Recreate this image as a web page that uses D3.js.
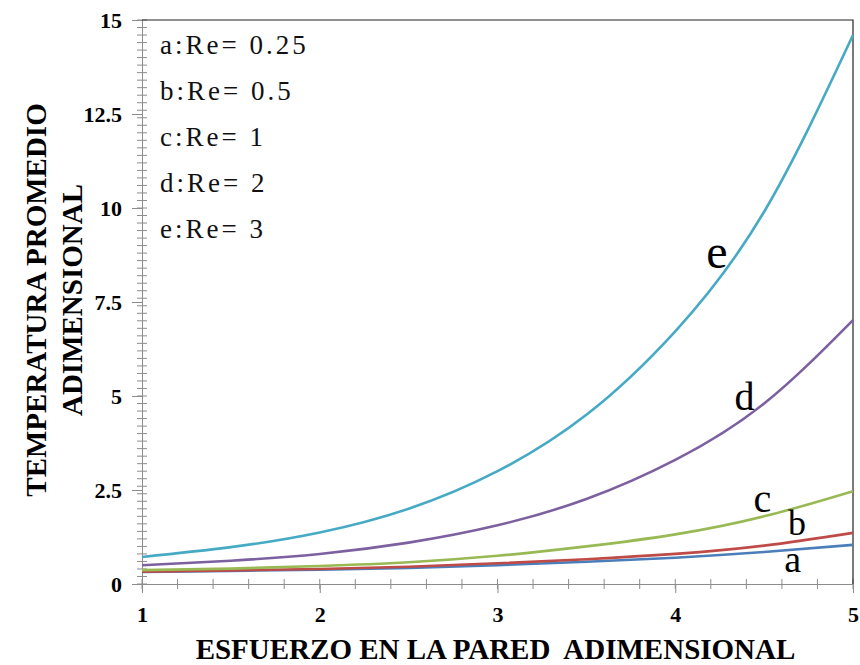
<!doctype html>
<html lang="es">
<head>
  <meta charset="utf-8">
  <title>Temperatura promedio adimensional</title>
  <script src="https://d3js.org/d3.v7.min.js"></script>
  <style>
    body { margin: 0; background: #fff; }
    text { font-family: "Liberation Serif", "Times New Roman", serif; }
    .tick text { font-family: "Liberation Serif", serif; font-weight: bold; font-size: 22px; fill: #000; }
  </style>
</head>
<body>
  <div id="chart"></div>
  <script>
  // esfuerzo en la pared (x) y temperatura promedio para cada Re
  var xs = [1, 1.5, 2, 2.5, 3, 3.5, 4, 4.5, 5];
  var curveA = [0.32, 0.35, 0.38, 0.43, 0.50, 0.59, 0.70, 0.85, 1.04];
  var curveB = [0.33, 0.36, 0.40, 0.46, 0.55, 0.66, 0.80, 1.02, 1.36];
  var curveC = [0.37, 0.41, 0.48, 0.58, 0.75, 1.00, 1.32, 1.80, 2.47];
  var curveD = [0.50, 0.62, 0.80, 1.10, 1.56, 2.26, 3.30, 4.80, 7.02];
  var curveE = [0.72, 0.98, 1.37, 2.00, 3.00, 4.50, 6.72, 9.90, 14.6];
  var legendLabels = ["a:Re= 0.25", "b:Re= 0.5", "c:Re= 1", "d:Re= 2", "e:Re= 3"];
  var colors = ["#4a7ebb", "#be4b48", "#98b954", "#7d60a0", "#46aac5"];
  var xTicks = [1, 2, 3, 4, 5];
  var yTicks = [0, 2.5, 5, 7.5, 10, 12.5, 15];

  var width = 860, height = 665;
  var svg = d3.select("#chart").append("svg")
    .attr("width", width).attr("height", height);

  var x = d3.scaleLinear().domain([1, 5]).range([142, 853]);
  var y = d3.scaleLinear().domain([0, 15]).range([584, 20]);

  var axisColor = "#8c8c8c";

  // minor ticks every 0.2 crossing the axes
  var xMinor = d3.range(1, 5.001, 0.2);
  var yMinor = d3.range(0, 15.001, 0.2);
  svg.append("g").selectAll("line").data(xMinor).enter().append("line")
    .attr("x1", function(d){ return x(d) }).attr("x2", function(d){ return x(d) })
    .attr("y1", y(0) - 5).attr("y2", y(0) + 5)
    .attr("stroke", axisColor).attr("stroke-width", 1);
  svg.append("g").selectAll("line").data(yMinor).enter().append("line")
    .attr("y1", function(d){ return y(d) }).attr("y2", function(d){ return y(d) })
    .attr("x1", x(1) - 5).attr("x2", x(1) + 5)
    .attr("stroke", axisColor).attr("stroke-width", 1);

  var xAxis = svg.append("g")
    .attr("transform", "translate(0," + y(0) + ")")
    .call(d3.axisBottom(x).tickValues(xTicks).tickSize(9).tickPadding(13)
      .tickFormat(d3.format("d")));
  var yAxis = svg.append("g")
    .attr("transform", "translate(" + x(1) + ",0)")
    .call(d3.axisLeft(y).tickValues(yTicks).tickSize(10).tickPadding(10)
      .tickFormat(function(d){ return String(d) }));
  [xAxis, yAxis].forEach(function(g){
    g.select(".domain").attr("stroke", axisColor);
    g.selectAll(".tick line").attr("stroke", axisColor);
  });

  // top and right border
  svg.append("path")
    .attr("d", "M" + x(1) + "," + y(15) + "H" + x(5) + "V" + y(0))
    .attr("fill", "none").attr("stroke", "#222").attr("stroke-width", 1.2);

  var series = [curveA, curveB, curveC, curveD, curveE];
  var line = d3.line()
    .x(function(d, i){ return x(xs[i]) })
    .y(function(d){ return y(d) })
    .curve(d3.curveNatural);

  svg.append("g").selectAll("path").data(series).enter().append("path")
    .attr("d", line)
    .attr("fill", "none")
    .attr("stroke", function(d, i){ return colors[i] })
    .attr("stroke-width", 2.6);

  // curve letters
  var letterPos = [
    {k: "a", x: 4.66, y: 0.32, size: 38},
    {k: "b", x: 4.685, y: 1.3, size: 36},
    {k: "c", x: 4.49, y: 1.91, size: 40},
    {k: "d", x: 4.39, y: 4.63, size: 40},
    {k: "e", x: 4.235, y: 8.4, size: 48}
  ];
  svg.append("g").selectAll("text").data(letterPos).enter().append("text")
    .attr("x", function(d){ return x(d.x) })
    .attr("y", function(d){ return y(d.y) })
    .attr("font-size", function(d){ return d.size })
    .attr("text-anchor", "middle")
    .text(function(d){ return d.k });

  // legend
  svg.append("g").selectAll("text").data(legendLabels).enter().append("text")
    .attr("x", 160)
    .attr("y", function(d, i){ return 54 + i * 46 })
    .attr("font-size", 27)
    .attr("letter-spacing", 3)
    .attr("fill", "#111")
    .text(function(d){ return d });

  // axis titles
  svg.append("text")
    .attr("x", (x(1) + x(5)) / 2 - 2).attr("y", 659)
    .attr("text-anchor", "middle")
    .attr("font-weight", "bold").attr("font-size", 29)
    .attr("xml:space", "preserve")
    .text("ESFUERZO EN LA PARED  ADIMENSIONAL");

  var yt = svg.append("text")
    .attr("transform", "translate(46,300) rotate(-90)")
    .attr("text-anchor", "middle")
    .attr("font-weight", "bold").attr("font-size", 29);
  yt.append("tspan").attr("x", 0).attr("dy", 0).text("TEMPERATURA PROMEDIO");
  yt.append("tspan").attr("x", 0).attr("dy", 36).text("ADIMENSIONAL");
  </script>
</body>
</html>
